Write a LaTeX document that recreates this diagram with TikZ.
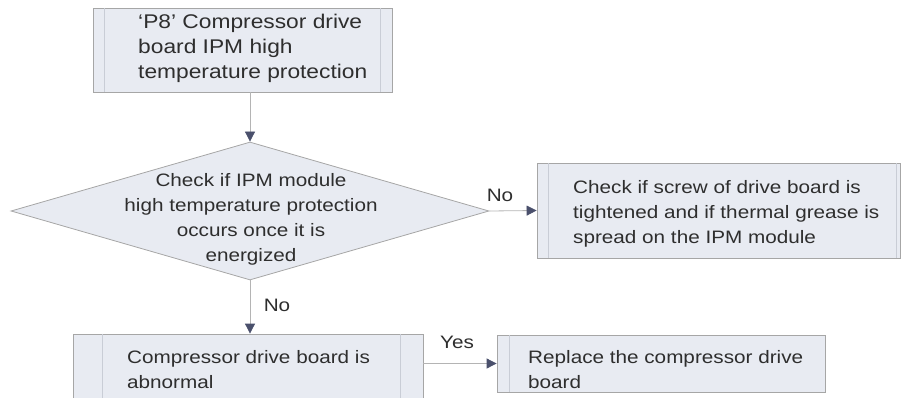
\documentclass[tikz,border=0pt]{standalone}
\usepackage{fontspec}
\setmainfont{Liberation Sans}[FakeStretch=1.15]
\usetikzlibrary{arrows.meta,shapes.geometric}
\definecolor{boxfill}{HTML}{E8EBF2}
\definecolor{boxline}{HTML}{A6A6A6}
\definecolor{stripe}{HTML}{C9CDD6}
\definecolor{txtc}{HTML}{2E2E2E}
\definecolor{linec}{HTML}{B4B4B4}
\definecolor{tipc}{HTML}{4A506C}
\begin{document}
\begin{tikzpicture}[x=1pt,y=-1pt,
  box/.style={draw=boxline, fill=boxfill, line width=0.8pt, inner sep=0pt},
  stripeline/.style={draw=stripe, line width=1.2pt},
  txt/.style={font=\fontsize{18}{25}\selectfont, text=txtc, inner sep=0pt, align=left},
  bigtxt/.style={txt, font=\fontsize{19.8}{25}\selectfont},
  lbl/.style={font=\fontsize{18}{22}\selectfont, text=txtc, inner sep=0pt},
  flow/.style={draw=linec, line width=0.8pt, -{Triangle[length=10pt,width=10pt,color=tipc]}}]
\useasboundingbox (0,0) rectangle (909,398);
% boxes
\node[box, minimum width=299pt, minimum height=84pt] (b1) at (242.5,50) {};
\node[box, diamond, minimum width=478pt, minimum height=138pt] (d) at (250,211) {};
\node[box, minimum width=363pt, minimum height=95pt] (b2) at (718.5,210.5) {};
\node[box, minimum width=350pt, minimum height=66pt] (b3) at (248,367) {};
\node[box, minimum width=328pt, minimum height=57pt] (b4) at (661,363.5) {};
% side stripes
\draw[stripeline] ([xshift=12pt]b1.north west) -- ([xshift=12pt]b1.south west);
\draw[stripeline] ([xshift=-12pt]b1.north east) -- ([xshift=-12pt]b1.south east);
\draw[stripeline] ([xshift=12pt]b2.north west) -- ([xshift=12pt]b2.south west);
\draw[stripeline] ([xshift=-4pt]b2.north east) -- ([xshift=-4pt]b2.south east);
\draw[stripeline] ([xshift=30pt]b3.north west) -- ([xshift=30pt]b3.south west);
\draw[stripeline] ([xshift=-23pt]b3.north east) -- ([xshift=-23pt]b3.south east);
\draw[stripeline] ([xshift=13pt]b4.north west) -- ([xshift=13pt]b4.south west);
% texts
\node[bigtxt, anchor=west] (t1) at (138,48) {‘P8’ Compressor drive\\board IPM high\\temperature protection};
\node[txt, align=center] (td) at (251,219) {Check if IPM module\\high temperature protection\\occurs once it is\\energized};
\node[txt, anchor=west] (t2) at (573,213.5) {Check if screw of drive board is\\tightened and if thermal grease is\\spread on the IPM module};
\node[txt, anchor=west] (t3) at (127,370) {Compressor drive board is\\abnormal};
\node[txt, anchor=west] (t4) at (528,369.5) {Replace the compressor drive\\board};
% connectors
\draw[flow] (b1.south -| d.north) -- (d.north);
\draw[flow] (d.east) -- (b2.west);
\draw[flow] (d.south) -- (d.south |- b3.north);
\draw[flow] (b4.west -| b3.east) -- (b4.west);
% labels
\node[lbl] (l1) at (500,195) {No};
\node[lbl] (l2) at (277,305) {No};
\node[lbl] (l3) at (457,342) {Yes};
\end{tikzpicture}
\end{document}
